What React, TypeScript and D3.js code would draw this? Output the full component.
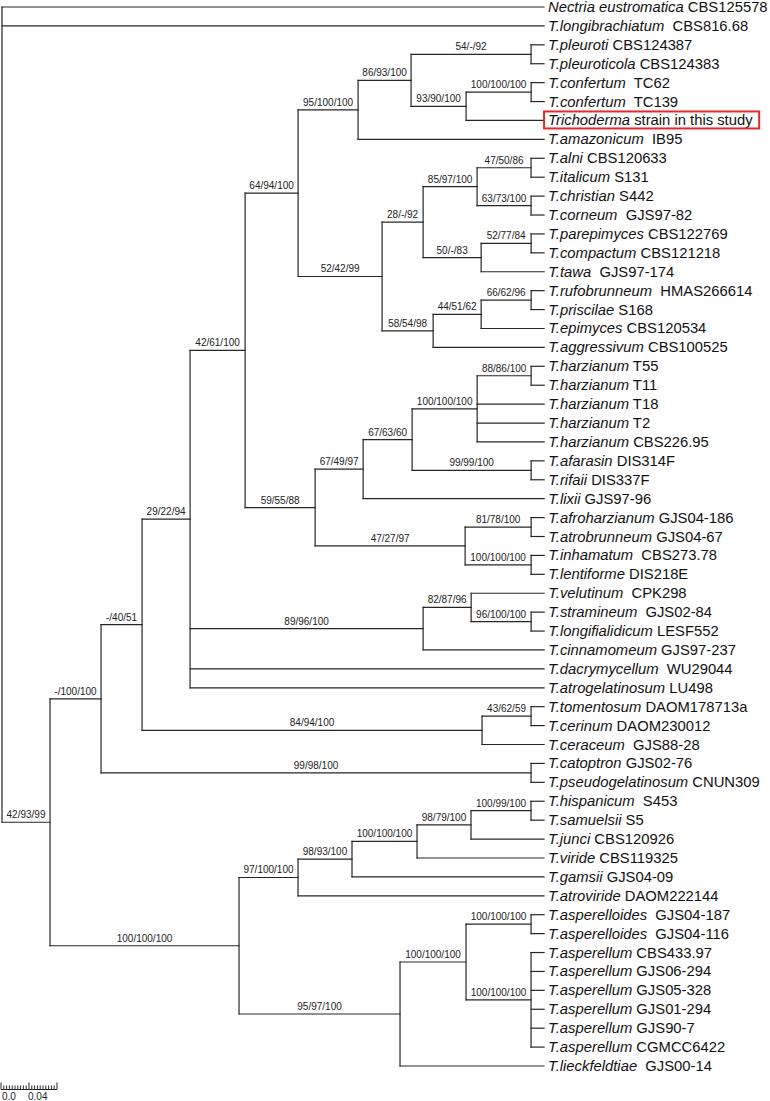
import React, { useLayoutEffect, useRef, useState } from "react";
import * as d3 from "d3";

// Taxon names (italic part) and strain codes, in tip order; index = leaf id in NEWICK
const taxonNames = [
  "Nectria eustromatica", "T.longibrachiatum", "T.pleuroti", "T.pleuroticola", "T.confertum", "T.confertum",
  "Trichoderma", "T.amazonicum", "T.alni", "T.italicum", "T.christian", "T.corneum", "T.parepimyces",
  "T.compactum", "T.tawa", "T.rufobrunneum", "T.priscilae", "T.epimyces", "T.aggressivum", "T.harzianum",
  "T.harzianum", "T.harzianum", "T.harzianum", "T.harzianum", "T.afarasin", "T.rifaii", "T.lixii",
  "T.afroharzianum", "T.atrobrunneum", "T.inhamatum", "T.lentiforme", "T.velutinum", "T.stramineum",
  "T.longifialidicum", "T.cinnamomeum", "T.dacrymycellum", "T.atrogelatinosum", "T.tomentosum", "T.cerinum",
  "T.ceraceum", "T.catoptron", "T.pseudogelatinosum", "T.hispanicum", "T.samuelsii", "T.junci", "T.viride",
  "T.gamsii", "T.atroviride", "T.asperelloides", "T.asperelloides", "T.asperellum", "T.asperellum",
  "T.asperellum", "T.asperellum", "T.asperellum", "T.asperellum", "T.lieckfeldtiae",
];
const strainCodes = [
  "CBS125578", " CBS816.68", "CBS124387", "CBS124383", " TC62", " TC139",
  "strain in this study", " IB95", "CBS120633", "S131", "S442", " GJS97-82", "CBS122769",
  "CBS121218", " GJS97-174", " HMAS266614", "S168", "CBS120534", "CBS100525", "T55",
  "T11", "T18", "T2", "CBS226.95", "DIS314F", "DIS337F", "GJS97-96",
  "GJS04-186", "GJS04-67", " CBS273.78", "DIS218E", " CPK298", " GJS02-84",
  "LESF552", "GJS97-237", " WU29044", "LU498", "DAOM178713a", "DAOM230012",
  " GJS88-28", "GJS02-76", "CNUN309", " S453", "S5", "CBS120926", "CBS119325",
  "GJS04-09", "DAOM222144", " GJS04-187", " GJS04-116", "CBS433.97", "GJS06-294",
  "GJS05-328", "GJS01-294", "GJS90-7", "CGMCC6422", " GJS00-14",
];
const highlightedTaxon = 6;

// Tree topology with branch lengths (substitutions/site) and support values (ML/MP/BI)
const NEWICK =
  "(0:0.7743,1:0.7743,(((((((((2:0.0186,3:0.0186)54/-/92:0.1714,((4:0.0186,5:0.0186)100/100/100:0.0929,6:0.1114)93/90/100:0.0786)86/93/100:0.0757,7:0.2657)95/100/100:0.0857,((((8:0.0186,9:0.0186)47/50/86:0.0771,(10:0.0186,11:0.0186)63/73/100:0.0771)85/97/100:0.0771,((12:0.0186,13:0.0186)52/77/84:0.0714,14:0.09)50/-/83:0.0829)28/-/92:0.0586,(((15:0.0186,16:0.0186)66/62/96:0.0714,17:0.09)44/51/62:0.0686,18:0.1586)58/54/98:0.0729)52/42/99:0.12)64/94/100:0.0757,(((((19:0.0186,20:0.0186)88/86/100:0.0771,21:0.0957,22:0.0957,23:0.0957)100/100/100:0.0929,(24:0.0186,25:0.0186)99/99/100:0.17)67/63/60:0.07,26:0.2586)67/49/97:0.0686,((27:0.0186,28:0.0186)81/78/100:0.0943,(29:0.0186,30:0.0186)100/100/100:0.0943)47/27/97:0.2143)59/55/88:0.1)42/61/100:0.0786,((31:0.1043,(32:0.0186,33:0.0186)96/100/100:0.0857)82/87/96:0.0686,34:0.1729)89/96/100:0.3329,35:0.5057,36:0.5057)29/22/94:0.0686,((37:0.0186,38:0.0186)43/62/59:0.07,39:0.0886)84/94/100:0.4857)-/40/51:0.0586,(40:0.0186,41:0.0186)99/98/100:0.6143)-/100/100:0.0729,((((((42:0.0186,43:0.0186)100/99/100:0.0857,44:0.1043)98/79/100:0.0771,45:0.1814)100/100/100:0.0929,46:0.2743)98/93/100:0.0771,47:0.3514)97/100/100:0.0843,(((48:0.0186,49:0.0186)100/100/100:0.0929,(50:0.0186,51:0.0186,52:0.0186,53:0.0186,54:0.0186,55:0.0186)100/100/100:0.0929)100/100/100:0.0943,56:0.2057)95/97/100:0.23)100/100/100:0.27)42/93/99:0.0686);";

// Scale bar
const scaleBarMax = 0.08;
const scaleBarStep = 0.004;
const scaleBarMajor = [0, 0.04, 0.08];
const scaleBarLabels = [
  { v: 0, t: "0.0" },
  { v: 0.04, t: "0.04" },
];

type TNode = { name: string; length: number; children?: TNode[] };

function parseNewick(s: string): TNode {
  let i = 0;
  const readUntil = (stops: string) => {
    const st = i;
    while (i < s.length && !stops.includes(s[i])) i++;
    return s.slice(st, i).trim();
  };
  function node(): TNode {
    const n: TNode = { name: "", length: 0 };
    if (s[i] === "(") {
      i++;
      n.children = [];
      for (;;) {
        n.children.push(node());
        if (s[i] === ",") { i++; continue; }
        if (s[i] === ")") { i++; break; }
        throw new Error("bad newick at " + i);
      }
    }
    n.name = readUntil(":,();");
    if (s[i] === ":") {
      i++;
      n.length = +readUntil(",();");
    }
    return n;
  }
  return node();
}

const W = 770;
const H = 1101;
const FONT = "'Liberation Sans', Arial, Helvetica, sans-serif";
const LINE = "#262626";

export default function App() {
  const root: any = d3.hierarchy(parseNewick(NEWICK));
  root.each((d: any) => {
    d.dist = d.parent ? d.parent.dist + d.data.length : 0;
  });
  const leaves = root.leaves();
  const y = d3.scaleLinear().domain([0, leaves.length - 1]).range([7, 1066]);
  leaves.forEach((l: any, i: number) => (l.yy = y(i)));
  root.eachAfter((d: any) => {
    if (d.children) d.yy = (d.children[0].yy + d.children[d.children.length - 1].yy) / 2;
  });
  const x = d3.scaleLinear().domain([0, 1]).range([2, 702]);
  const xs = d3.scaleLinear().domain([0, 1]).range([1, 701]);

  const nodes = root.descendants();
  const hlRef = useRef<SVGTextElement>(null);
  const [box, setBox] = useState<{ x: number; y: number; w: number; h: number } | null>(null);
  useLayoutEffect(() => {
    if (hlRef.current) {
      const b = hlRef.current.getBBox();
      setBox({ x: b.x, y: b.y, w: b.width, h: b.height });
    }
  }, []);

  const minorTicks = d3.range(0, scaleBarMax + 1e-9, scaleBarStep);
  const barY = 1089.5;

  return (
    <svg
      width={W}
      height={H}
      style={{ position: "absolute", left: 0, top: 0, background: "#fff" }}
      fontFamily={FONT}
    >
      <rect width={W} height={H} fill="#fff" />
      <g stroke={LINE} strokeWidth={1.2} fill="none" strokeLinecap="square">
        {nodes
          .filter((d: any) => d.parent)
          .map((d: any, i: number) => (
            <path key={"h" + i} d={`M${x(d.parent.dist)},${d.yy}H${x(d.dist)}`} />
          ))}
        {nodes
          .filter((d: any) => d.children)
          .map((d: any, i: number) => (
            <path
              key={"v" + i}
              d={`M${x(d.dist)},${d.children[0].yy}V${d.children[d.children.length - 1].yy}`}
            />
          ))}
      </g>
      <g fontSize={10} fill="#222" textAnchor="middle">
        {nodes
          .filter((d: any) => d.parent && d.children && d.data.name)
          .map((d: any, i: number) => (
            <text key={"s" + i} x={(x(d.parent.dist) + x(d.dist)) / 2} y={d.yy - 4}>
              {d.data.name}
            </text>
          ))}
      </g>
      <g fontSize={14.8} fill="#111">
        {leaves.map((l: any, i: number) => {
          const id = +l.data.name;
          return (
            <text
              key={"l" + i}
              ref={id === highlightedTaxon ? hlRef : undefined}
              x={x(l.dist) + 4}
              y={l.yy + 5}
              style={{ whiteSpace: "pre" }}
            >
              <tspan fontStyle="italic">{taxonNames[id]}</tspan>
              <tspan>{" " + strainCodes[id]}</tspan>
            </text>
          );
        })}
      </g>
      {box && (
        <rect
          x={box.x - 4}
          y={box.y - 1}
          width={box.w + 10}
          height={box.h + 1}
          fill="none"
          stroke="#e8262b"
          strokeWidth={2}
        />
      )}
      <g stroke={LINE} strokeWidth={1}>
        <line x1={xs(0)} x2={xs(scaleBarMax)} y1={barY} y2={barY} />
        {minorTicks.map((v, i) => {
          const major = scaleBarMajor.some((m) => Math.abs(m - v) < 1e-9);
          return (
            <line key={"t" + i} x1={xs(v)} x2={xs(v)} y1={barY} y2={barY - (major ? 7 : 4)} />
          );
        })}
      </g>
      <g fontSize={10} fill="#222">
        {scaleBarLabels.map((s, i) => (
          <text key={"sl" + i} x={xs(s.v) + (i === 0 ? 1 : -1)} y={1100}>
            {s.t}
          </text>
        ))}
      </g>
    </svg>
  );
}
